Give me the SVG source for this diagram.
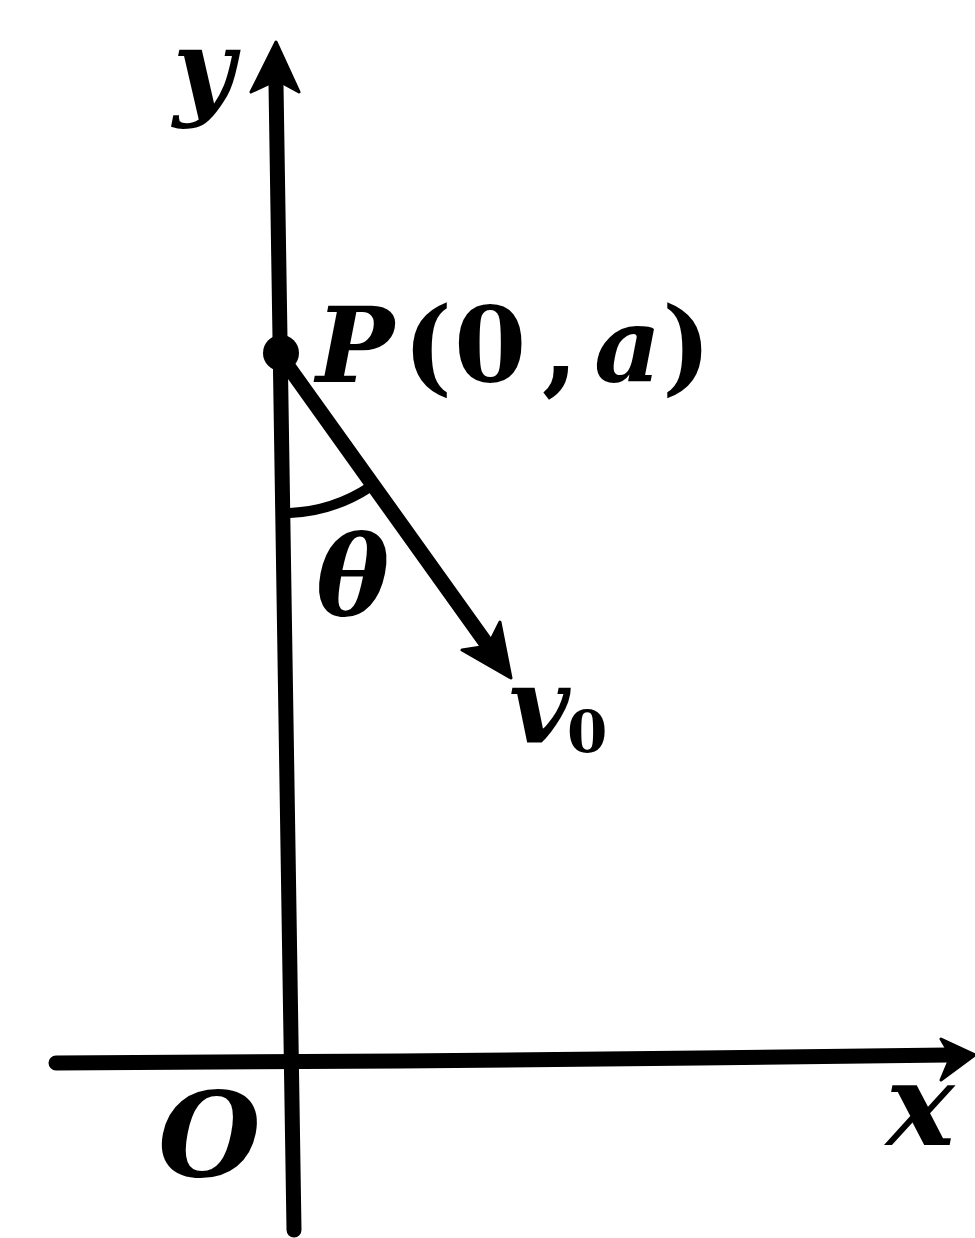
<svg xmlns="http://www.w3.org/2000/svg" width="975" height="1238" viewBox="0 0 975 1238">
<style>
.ax{stroke:#000;stroke-width:15;fill:none;stroke-linecap:round}
.arc{stroke:#000;stroke-width:10;fill:none;stroke-linecap:round}
.hd{fill:#000;stroke:#000;stroke-width:3;stroke-linejoin:round}
.lb{font-family:"DejaVu Serif","Liberation Serif",serif;font-weight:bold;fill:#000}
.it{font-style:italic}
</style>
<rect width="975" height="1238" fill="#fff"/>
<g id="connectors">
<line class="ax" x1="276" y1="84" x2="294" y2="1230"/>
<polygon class="hd" points="276,42 299,92 277,80 251,92"/>
<polyline class="ax" points="56,1063 400,1061 700,1058 948,1055"/>
<polygon class="hd" points="975,1055 941,1080 951,1056 941,1039"/>
<line class="ax" x1="280" y1="355" x2="486" y2="643"/>
<polygon class="hd" points="511,678 462,650 488,646 500,622"/>
<path class="arc" d="M290,513 A158,158 0 0 0 370,487"/>
</g>
<g id="P">
<circle cx="281" cy="353" r="18" fill="#000"/>
<text class="lb" font-size="104" y="382"><tspan class="it" x="316">P</tspan><tspan x="403">(</tspan><tspan x="454">0</tspan><tspan x="542">,</tspan><tspan class="it" x="594">a</tspan><tspan x="662">)</tspan></text>
</g>
<g id="theta"><text class="lb it" font-size="110" x="316" y="615">θ</text></g>
<g id="v0"><text class="lb" y="742"><tspan class="it" font-size="105" x="509">v</tspan><tspan font-size="58" x="567" y="752">0</tspan></text></g>
<g id="O"><text class="lb it" font-size="118" x="158" y="1176">O</text></g>
<g id="x"><text class="lb it" font-size="115" x="886" y="1145">x</text></g>
<g id="y"><text class="lb it" font-size="106" x="173" y="105">y</text></g>
</svg>
